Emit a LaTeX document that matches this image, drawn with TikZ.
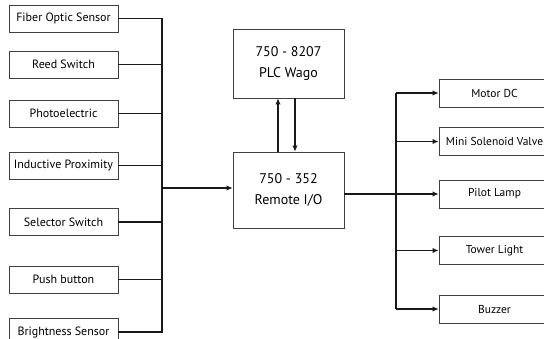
\documentclass[tikz,border=0pt]{standalone}
\usepackage{fontspec}
\setmainfont{PT Sans}
\usetikzlibrary{positioning,arrows.meta}
\tikzset{
  blk/.style={draw=black!75, line width=0.8pt, inner sep=0pt, align=center},
  inbox/.style={blk, minimum width=109pt, minimum height=27pt, font=\fontsize{12}{14}\selectfont},
  outbox/.style={blk, minimum width=111pt, minimum height=28pt, font=\fontsize{11.5}{14}\selectfont},
  ctrlbox/.style={blk, minimum width=111pt, font=\fontsize{14}{21}\selectfont},
  wire/.style={line width=1.6pt, black!90},
  arr/.style={wire, -{Latex[length=6pt,width=5.5pt]}}
}
\begin{document}
\begin{tikzpicture}[x=1pt, y=-1pt]
    \useasboundingbox (0,0) rectangle (544,338);
    \clip (0,0) rectangle (544,338);
    % inputs
    \node[inbox] (fiber)    at (63.5,18.5)  {Fiber Optic Sensor};
    \node[inbox] (reed)     at (63.5,64.5)  {Reed Switch};
    \node[inbox] (photo)    at (63.5,113.5) {Photoelectric};
    \node[inbox] (induct)   at (63.5,165.5) {Inductive Proximity};
    \node[inbox] (selector) at (63.5,222)   {Selector Switch};
    \node[inbox] (push)     at (63.5,279.5) {Push button};
    \node[inbox] (bright)   at (63.5,332)   {Brightness Sensor};
    % controller
    \node[ctrlbox, minimum height=69pt] (plc)    at (288.5,63.5) {750 - 8207\\PLC Wago};
    \node[ctrlbox, minimum height=76pt] (remote) at (288.5,190)  {750 - 352\\Remote I/O};
    % outputs
    \node[outbox] (motor)    at (494.5,93)    {Motor DC};
    \node[outbox] (solenoid) at (494.5,141.5) {Mini Solenoid Valve};
    \node[outbox] (pilot)    at (494.5,194)   {Pilot Lamp};
    \node[outbox] (tower)    at (494.5,250.5) {Tower Light};
    \node[outbox] (buzzer)   at (494.5,309)   {Buzzer};
    % input bus
    \coordinate (busL) at (162,188);
    \draw[wire] (fiber.east) -- (fiber.east -| busL) -- (bright.east -| busL) -- (bright.east);
    \foreach \n in {reed,photo,induct,selector,push}
        \draw[wire] (\n.east) -- (\n.east -| busL);
    \draw[arr] (busL) -- (remote.west |- busL);
    % plc link
    \draw[arr] ([xshift=-10.5pt]remote.north) -- ([xshift=-10.5pt]plc.south);
    \draw[arr] ([xshift=6.5pt]plc.south) -- ([xshift=6.5pt]remote.north);
    % output bus
    \coordinate (busR) at (396,194);
    \draw[wire] (remote.east |- pilot.west) -- (busR);
    \draw[wire] (motor.west -| busR) -- (buzzer.west -| busR);
    \foreach \n in {motor,solenoid,pilot,tower,buzzer}
        \draw[arr] (\n.west -| busR) -- (\n.west);
\end{tikzpicture}
\end{document}
